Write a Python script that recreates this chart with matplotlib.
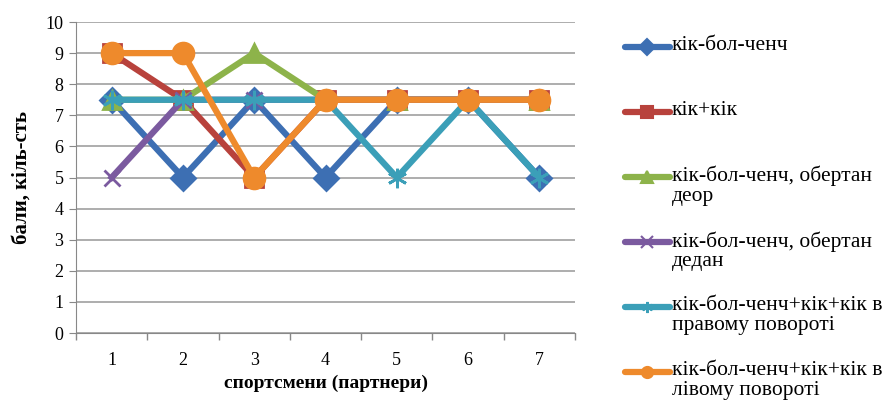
import numpy as np
import matplotlib
matplotlib.use("Agg")
import matplotlib.pyplot as plt

plt.rcParams['font.family'] = ['Liberation Serif', 'DejaVu Serif']

# дані з рисунка
athletes = ['1', '2', '3', '4', '5', '6', '7']
kick_ball_change = [7.5, 5, 7.5, 5, 7.5, 7.5, 5]
kick_kick = [9, 7.5, 5, 7.5, 7.5, 7.5, 7.5]
kbc_deor = [7.5, 7.5, 9, 7.5, 7.5, 7.5, 7.5]
kbc_dedan = [5, 7.5, 7.5, 7.5, 7.5, 7.5, 7.5]
kbc_right = [7.5, 7.5, 7.5, 7.5, 5, 7.5, 5]
kbc_left = [9, 9, 5, 7.5, 7.5, 7.5, 7.5]

labels = ['кік-бол-ченч',
          'кік+кік',
          'кік-бол-ченч, обертан\nдеор',
          'кік-бол-ченч, обертан\nдедан',
          'кік-бол-ченч+кік+кік в\nправому повороті',
          'кік-бол-ченч+кік+кік в\nлівому повороті']
series = [kick_ball_change, kick_kick, kbc_deor, kbc_dedan, kbc_right, kbc_left]
colors = ['#3d6fb3', '#b8423c', '#8db34a', '#7b5a9f', '#3b9fb8', '#ee8a2c']
markers = ['D', 's', '^', 'x', (6, 2, 0), 'o']
msizes = [12, 13, 13, 12, 14, 15]

fig = plt.figure(figsize=(8.88, 4.04), dpi=100)
ax = fig.add_axes([0.0856, 0.1757, 0.562, 0.7698])

x = np.arange(1, len(athletes) + 1)
for vals, lab, c, m, ms in zip(series, labels, colors, markers, msizes):
    ax.plot(x, vals, color=c, lw=4.5, marker=m, ms=ms, mew=2,
            mfc=c, mec=c, label=lab)

ax.set_xlim(0.5, 7.5)
ax.set_ylim(0, 10)
ax.set_yticks(range(0, 11))
ax.set_xticks(x)
ax.set_xticklabels(athletes)
ax.set_xticks(np.arange(0.5, 8, 1), minor=True)
ax.tick_params(axis='x', which='major', length=0, labelsize=13, pad=14)
ax.tick_params(axis='x', which='minor', length=5, color='#888888', width=1)
ax.tick_params(axis='y', length=5, color='#888888', labelsize=13, pad=4)
ax.yaxis.grid(True, color='#a0a0a0', lw=1.2)
ax.set_axisbelow(True)
for s in ['top', 'right']:
    ax.spines[s].set_visible(False)
ax.spines['left'].set_color('#888888')
ax.spines['bottom'].set_color('#888888')

ax.set_xlabel('спортсмени (партнери)', fontsize=14, fontweight='bold', labelpad=4)
ax.set_ylabel('бали, кіль-сть', fontsize=15, fontweight='bold', labelpad=10)

# легенда вручну (маркер на рівні першого рядка)
lax = fig.add_axes([0, 0, 1, 1], facecolor='none')
lax.set_xlim(0, 888)
lax.set_ylim(404, 0)
lax.axis('off')
for i, (lab, c, m) in enumerate(zip(labels, colors, markers)):
    yc = 47 + 65 * i
    lax.plot([625, 670], [yc, yc], color=c, lw=4.5, solid_capstyle='round')
    lax.plot([647], [yc], marker=m, ms=8, mew=1.5, color=c)
    lax.text(672, yc - 11, lab, fontsize=15.5, va='top', ha='left',
             linespacing=1.05)

fig.savefig('out.png', dpi=100)
